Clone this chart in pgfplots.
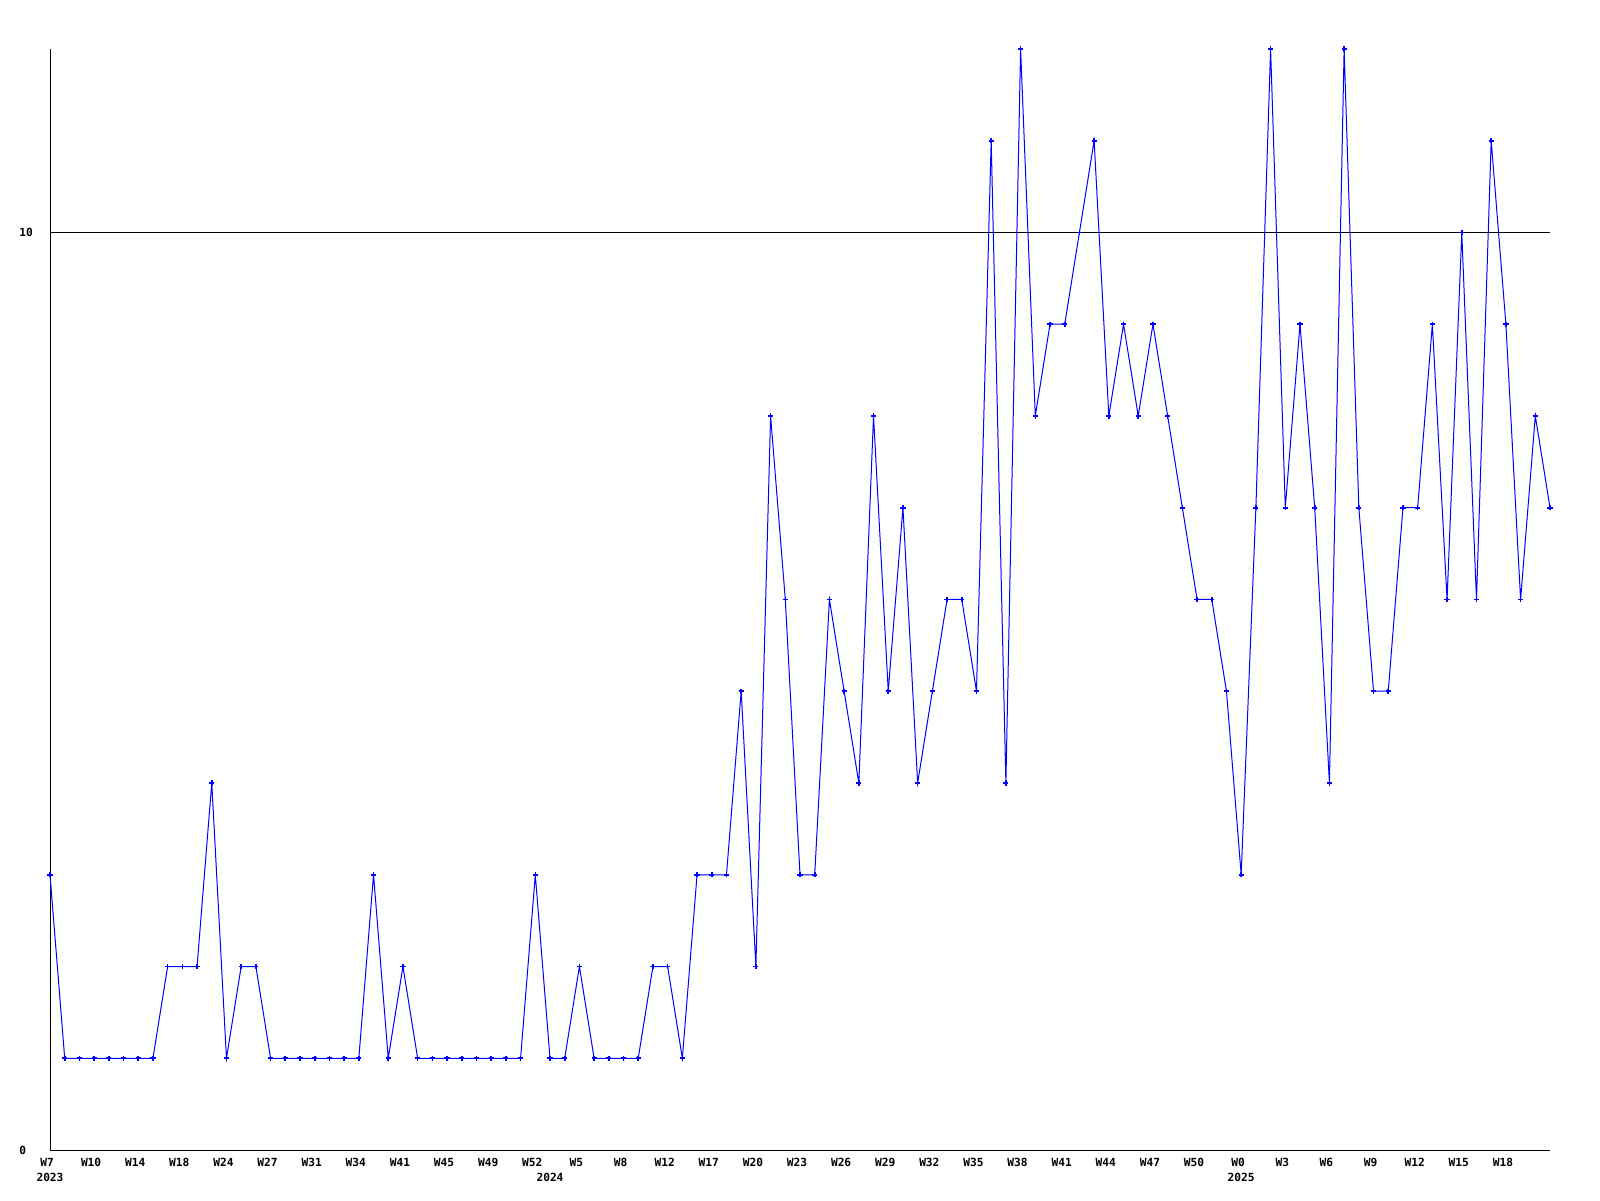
\documentclass[border=0pt]{standalone}
\usepackage{fontspec}
\setmonofont{DejaVu Sans Mono}
\usepackage{pgfplots}
\pgfplotsset{compat=1.18}
\pgfplotstableread{
x y
0 3
1 1
2 1
3 1
4 1
5 1
6 1
7 1
8 2
9 2
10 2
11 4
12 1
13 2
14 2
15 1
16 1
17 1
18 1
19 1
20 1
21 1
22 3
23 1
24 2
25 1
26 1
27 1
28 1
29 1
30 1
31 1
32 1
33 3
34 1
35 1
36 2
37 1
38 1
39 1
40 1
41 2
42 2
43 1
44 3
45 3
46 3
47 5
48 2
49 8
50 6
51 3
52 3
53 6
54 5
55 4
56 8
57 5
58 7
59 4
60 5
61 6
62 6
63 5
64 11
65 4
66 12
67 8
68 9
69 9
70 10
71 11
72 8
73 9
74 8
75 9
76 8
77 7
78 6
79 6
80 5
81 3
82 7
83 12
84 7
85 9
86 7
87 4
88 12
89 7
90 5
91 5
92 7
93 7
94 9
95 6
96 10
97 6
98 11
99 9
100 6
101 8
102 7
}\datatable
\newcommand{\tfont}{\fontsize{5.6}{6}\selectfont\ttfamily\bfseries}
\begin{document}
\begin{tikzpicture}
\useasboundingbox (0,0) rectangle (800pt,600pt);
\begin{axis}[
  at={(25pt,25pt)}, anchor=south west,
  scale only axis, width=750pt, height=550.5pt,
  xmin=0, xmax=102, ymin=0, ymax=12,
  axis x line*=bottom, axis y line*=left,
  axis line style={black, line width=0.5pt},
  major tick length=0pt,
  xtick={0,3,...,99},
  xticklabels={W7,W10,W14,W18,W24,W27,W31,W34,W41,W45,W49,W52,W5,W8,W12,W17,W20,W23,W26,W29,W32,W35,W38,W41,W44,W47,W50,W0,W3,W6,W9,W12,W15,W18},
  ytick={0,10}, yticklabels={0,10},
  ymajorgrids, major grid style={black, line width=0.5pt},
  xticklabel style={font=\tfont, anchor=north, inner sep=0pt, yshift=-4pt, xshift=-1.5pt},
  yticklabel style={font=\tfont, anchor=west, inner sep=0pt, xshift=-15.5pt},
  clip=false,
]
\addplot[color={rgb,255:red,0;green,0;blue,255}, line width=0.5pt, mark=+, mark size=1.3pt, mark options={line width=0.8pt}] table[x=x,y=y] {\datatable};
\node[font=\tfont, anchor=north, inner sep=0pt] at (axis cs:0,0) [yshift=-11.5pt] {2023};
\node[font=\tfont, anchor=north, inner sep=0pt] at (axis cs:34,0) [yshift=-11.5pt] {2024};
\node[font=\tfont, anchor=north, inner sep=0pt] at (axis cs:81,0) [yshift=-11.5pt] {2025};
\end{axis}
\end{tikzpicture}
\end{document}
